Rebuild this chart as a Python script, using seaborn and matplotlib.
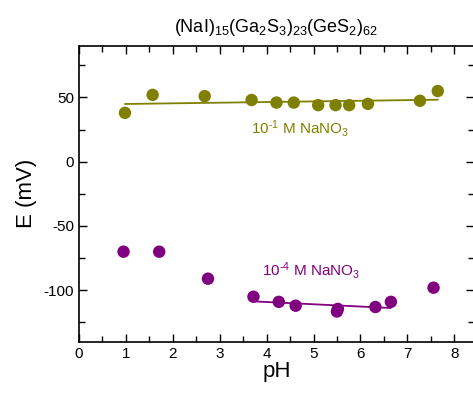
import numpy as np
import pandas as pd
import matplotlib.pyplot as plt
from matplotlib.ticker import MultipleLocator
import seaborn as sns

sns.set_style('ticks')
plt.rcParams['font.family'] = ['Liberation Sans', 'DejaVu Sans']
plt.rcParams['axes.unicode_minus'] = False
plt.rcParams['mathtext.fontset'] = 'custom'
plt.rcParams['mathtext.rm'] = 'Liberation Sans'
plt.rcParams['mathtext.it'] = 'Liberation Sans'
plt.rcParams['text.color'] = 'black'
plt.rcParams['axes.labelcolor'] = 'black'

# --------------------------
# Data
# --------------------------
ph_high = [0.98, 1.57, 2.68, 3.68, 4.21, 4.58, 5.10, 5.47, 5.76, 6.16, 7.27, 7.65]
e_high = [38, 52, 51, 48, 46, 46, 44, 44, 44, 45, 47.4, 55]

ph_low = [0.95, 1.71, 2.75, 3.72, 4.26, 4.62, 5.50, 5.52, 6.32, 6.65, 7.56]
e_low = [-70, -70, -91, -105, -109, -112, -116.5, -114.5, -113, -109, -98]

# points used for the linear fit of the 1e-4 M series
fit_low_range = (3.7, 6.7)

olive = '#808000'
purple = '#800080'

df_high = pd.DataFrame({'pH': ph_high, 'E': e_high})
df_low = pd.DataFrame({'pH': ph_low, 'E': e_low})
df_low_fit = df_low[(df_low.pH >= fit_low_range[0]) & (df_low.pH <= fit_low_range[1])]

fig = plt.figure(figsize=(4.73, 3.93), dpi=100)
ax = fig.add_axes([79 / 473, 1 - 341.7 / 393, 395 / 473, (341.7 - 46) / 393])

sns.scatterplot(data=df_high, x='pH', y='E', color=olive, s=80, edgecolor='none', ax=ax, zorder=3)
sns.regplot(data=df_high, x='pH', y='E', scatter=False, ci=None, truncate=True,
            color=olive, line_kws={'lw': 1.3}, ax=ax)

sns.scatterplot(data=df_low, x='pH', y='E', color=purple, s=80, edgecolor='none', ax=ax, zorder=3)
sns.regplot(data=df_low_fit, x='pH', y='E', scatter=False, ci=None, truncate=True,
            color=purple, line_kws={'lw': 1.3}, ax=ax)

# hyphen (U+2010) instead of the mathtext minus, as in the original
ax.text(4.71, 26, '10$^{\\mathrm{\u20101}}$ M NaNO$_{\\mathrm{3}}$', color=olive,
        fontsize=11, ha='center', va='center')
ax.text(4.94, -85, '10$^{\\mathrm{\u20104}}$ M NaNO$_{\\mathrm{3}}$', color=purple,
        fontsize=11, ha='center', va='center')

ax.set_xlim(0, 395 / 46.9)
ax.set_ylim(-140, 90)
ax.xaxis.set_major_locator(MultipleLocator(1))
ax.xaxis.set_minor_locator(MultipleLocator(0.5))
ax.yaxis.set_major_locator(MultipleLocator(50))
ax.yaxis.set_minor_locator(MultipleLocator(25))
ax.tick_params(which='both', direction='in', top=True, right=True, labelsize=11,
               colors='black', width=1)
ax.tick_params(which='major', length=6)
ax.tick_params(which='minor', length=4)
for s in ax.spines.values():
    s.set_linewidth(1.2)
    s.set_color('black')

ax.set_xlabel('pH', fontsize=16, labelpad=0)
ax.set_ylabel('E (mV)', fontsize=16, labelpad=5)
ax.set_title(r'(NaI)$_{\mathrm{15}}$(Ga$_{\mathrm{2}}$S$_{\mathrm{3}}$)$_{\mathrm{23}}$(GeS$_{\mathrm{2}}$)$_{\mathrm{62}}$',
             fontsize=13, pad=10)

fig.savefig('out.png', dpi=100)
